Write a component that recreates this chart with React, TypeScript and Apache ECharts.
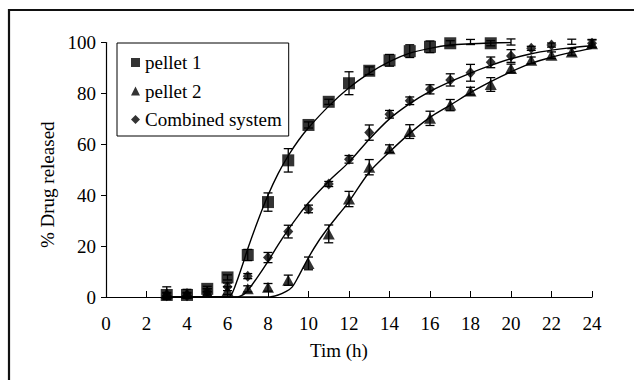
import React, { useEffect, useRef } from "react";
import * as echarts from "echarts";

// ---- data ----
const xTicks = [0, 2, 4, 6, 8, 10, 12, 14, 16, 18, 20, 22, 24];

const p1Time = [3, 4, 5, 6, 7, 8, 9, 10, 11, 12, 13, 14, 15, 16, 17, 18, 19, 20];
const p1Value = [0.8, 0.8, 3.2, 7.7, 16.5, 37.3, 53.7, 67.6, 76.7, 84, 88.9, 93, 96.6, 98.3, 99.7, 100.2, 99.7, 100.2];
const p1Err = [1, 1, 1, 1, 2.2, 3.6, 4.6, 1.2, 1, 4.5, 1.5, 2.3, 2.5, 2.3, 1, 1, 1, 1.2];

const p2Time = [3, 4, 5, 6, 7, 8, 9, 10, 11, 12, 13, 14, 15, 16, 17, 18, 19, 20, 21, 22, 23, 24];
const p2Value = [1.5, 1.5, 1.8, 2.5, 3.2, 3.8, 6.6, 13.2, 24.8, 38.5, 51, 58.3, 65, 70.2, 75.4, 80.9, 83.5, 89.8, 93, 95, 96.3, 99.5];
const p2Err = [2.5, 1.5, 1.5, 1.5, 1.2, 1.5, 2, 2.5, 3.5, 3, 3, 1.5, 2.7, 2.8, 2.2, 1.5, 2.7, 1.7, 1.3, 1.3, 1.3, 1.5];

const cTime = [3, 4, 5, 6, 7, 8, 9, 10, 11, 12, 13, 14, 15, 16, 17, 18, 19, 20, 21, 22, 23, 24];
const cValue = [0.5, 0.5, 2, 4, 8.2, 15.5, 25.7, 34.6, 44.4, 54.1, 64.6, 71.8, 77.1, 81.6, 85.3, 88.1, 92.2, 94.7, 97.7, 99, 100.3, 99.7];
const cErr = [1, 1, 1.2, 1.5, 1, 2, 2.5, 1.5, 1, 1.5, 3, 1.5, 1.5, 1.8, 2.4, 3.3, 2.1, 2.5, 0.8, 0.8, 1, 1.5];

// fitted curves
const p1CurveX = [3, 6, 6.2, 6.5, 6.8, 7, 7.5, 8, 8.5, 9, 9.5, 10, 11, 12, 13, 14, 15, 16, 17, 18, 19, 20];
const p1CurveY = [0, 0, 1, 7, 14, 19, 30, 40, 48.5, 55.5, 61.5, 66.5, 75, 82.2, 88, 92.5, 95.8, 97.7, 99, 99.5, 99.8, 100];

const p2CurveX = [3, 8, 8.5, 8.9, 9.2, 9.5, 10, 10.5, 11, 11.5, 12, 13, 14, 15, 16, 17, 18, 19, 20, 21, 22, 23, 24];
const p2CurveY = [0, 0, 0.8, 2.2, 4, 8, 15.5, 22, 27.5, 32.5, 37.5, 49, 57, 64.3, 70.6, 75.4, 80.3, 84.6, 88.5, 91.8, 94.2, 96.1, 97.7];

const cCurveX = [3, 6.5, 6.8, 7, 7.5, 8, 8.5, 9, 9.5, 10, 11, 12, 13, 14, 15, 16, 17, 18, 19, 20, 21, 22, 23, 24];
const cCurveY = [0, 0, 1, 2.5, 8, 14, 20.5, 26.5, 32, 37, 45.5, 53, 62, 70, 76, 80.8, 84.6, 88, 91, 93.6, 95.6, 97, 98, 98.7];

const seriesNames = ["pellet 1", "pellet 2", "Combined system"];

const FONT = "Liberation Serif";
const FS = 19;

function pairs(xs: number[], ys: number[]) {
  return xs.map((x, i) => [x, ys[i]]);
}
function errData(xs: number[], ys: number[], es: number[]) {
  return xs.map((x, i) => [x, ys[i] - es[i], ys[i] + es[i]]);
}

function errorSeries(data: number[][]) {
  return {
    type: "custom",
    data,
    encode: { x: 0, y: [1, 2] },
    silent: true,
    z: 3,
    renderItem: (params: any, api: any) => {
      const x = api.value(0);
      const lo = api.coord([x, api.value(1)]);
      const hi = api.coord([x, api.value(2)]);
      const w = 4.5;
      const style = { stroke: "#000", lineWidth: 1.3 };
      return {
        type: "group",
        children: [
          { type: "line", shape: { x1: hi[0], y1: hi[1], x2: lo[0], y2: lo[1] }, style },
          { type: "line", shape: { x1: hi[0] - w, y1: hi[1], x2: hi[0] + w, y2: hi[1] }, style },
          { type: "line", shape: { x1: lo[0] - w, y1: lo[1], x2: lo[0] + w, y2: lo[1] }, style },
        ],
      };
    },
  };
}

function curveSeries(data: number[][]) {
  return {
    type: "line",
    data,
    smooth: 0.3,
    showSymbol: false,
    symbol: "none",
    silent: true,
    z: 2,
    lineStyle: { color: "#000", width: 1.4 },
  };
}

export default function App() {
  const ref = useRef<HTMLDivElement>(null);

  useEffect(() => {
    if (!ref.current) return;
    const chart = echarts.init(ref.current, undefined, { renderer: "svg" });
    const option: any = {
      animation: false,
      backgroundColor: "#fff",
      textStyle: { fontFamily: FONT, color: "#000" },
      grid: { left: 106, right: 42, top: 42.5, bottom: 83, containLabel: false },
      legend: {
        orient: "vertical",
        left: 117,
        top: 43,
        padding: [10, 7, 7, 14],
        itemGap: 9.5,
        itemWidth: 9,
        itemHeight: 9,
        borderColor: "#000",
        borderWidth: 1,
        backgroundColor: "#fff",
        textStyle: { fontFamily: FONT, fontSize: FS, color: "#000" },
        data: [
          { name: seriesNames[0], icon: "rect" },
          { name: seriesNames[1], icon: "triangle" },
          { name: seriesNames[2], icon: "diamond" },
        ],
        selectedMode: false,
      },
      xAxis: {
        type: "value",
        min: 0,
        max: 24,
        interval: 2,
        name: "Tim (h)",
        nameLocation: "middle",
        nameGap: 44,
        nameTextStyle: { fontFamily: FONT, fontSize: FS, color: "#000", padding: [0, 20, 0, 0] },
        axisLine: { show: true, onZero: false, lineStyle: { color: "#000", width: 1.2 } },
        axisTick: { show: true, inside: true, length: 6, lineStyle: { color: "#000", width: 1 } },
        axisLabel: {
          margin: 17,
          fontFamily: FONT,
          fontSize: FS,
          color: "#000",
          formatter: (v: number) => (xTicks.includes(v) ? String(v) : ""),
        },
        splitLine: { show: false },
      },
      yAxis: {
        type: "value",
        min: 0,
        max: 100,
        interval: 20,
        name: "% Drug released",
        nameLocation: "middle",
        nameGap: 36,
        nameTextStyle: { fontFamily: FONT, fontSize: FS, color: "#000", padding: [0, 30, 0, 0] },
        axisLine: { show: true, lineStyle: { color: "#000", width: 1.2 } },
        axisTick: { show: true, inside: false, length: 5, lineStyle: { color: "#000", width: 1 } },
        axisLabel: { margin: 10, fontFamily: FONT, fontSize: FS, color: "#000" },
        splitLine: { show: false },
      },
      graphic: [
        {
          type: "rect",
          silent: true,
          shape: { x: 9, y: 10, width: 700, height: 450 },
          style: { fill: "none", stroke: "#111", lineWidth: 2.2 },
          z: 100,
        },
      ],
      series: [
        curveSeries(pairs(p1CurveX, p1CurveY)),
        curveSeries(pairs(p2CurveX, p2CurveY)),
        curveSeries(pairs(cCurveX, cCurveY)),
        errorSeries(errData(p1Time, p1Value, p1Err)),
        errorSeries(errData(p2Time, p2Value, p2Err)),
        errorSeries(errData(cTime, cValue, cErr)),
        {
          name: seriesNames[0],
          type: "scatter",
          symbol: "rect",
          symbolSize: 12,
          itemStyle: { color: "#000" },
          data: pairs(p1Time, p1Value),
          z: 5,
        },
        {
          name: seriesNames[1],
          type: "scatter",
          symbol: "triangle",
          symbolSize: [12, 11],
          itemStyle: { color: "#000" },
          data: pairs(p2Time, p2Value),
          z: 5,
        },
        {
          name: seriesNames[2],
          type: "scatter",
          symbol: "diamond",
          symbolSize: [10, 11],
          itemStyle: { color: "#000" },
          data: pairs(cTime, cValue),
          z: 5,
        },
      ],
    };
    chart.setOption(option);
    return () => chart.dispose();
  }, []);

  return (
    <div
      ref={ref}
      style={{ position: "fixed", left: 0, top: 0, width: 634, height: 380, background: "#fff" }}
    />
  );
}
